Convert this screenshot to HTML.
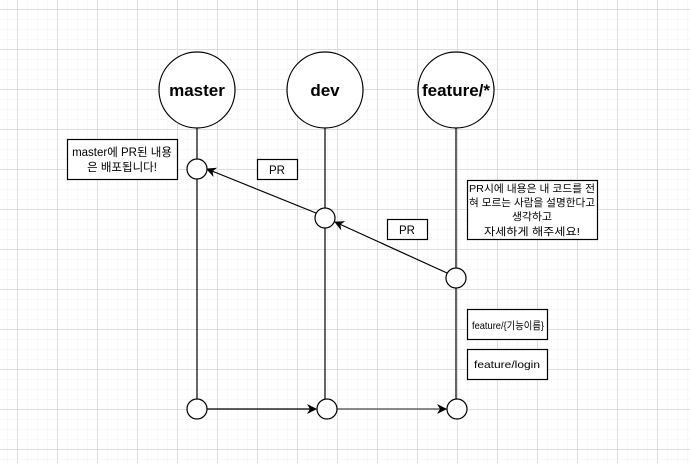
<!DOCTYPE html>
<html><head><meta charset="utf-8"><style>
body{margin:0;width:690px;height:463px;overflow:hidden;background:#fff;}
svg text{font-family:"Liberation Sans","Noto Sans CJK KR",sans-serif;}
</style></head><body>
<svg width="690" height="463" xmlns="http://www.w3.org/2000/svg">
<defs>
<pattern id="mi" width="10" height="10" patternUnits="userSpaceOnUse" x="7" y="9"><path d="M0 0H10M0 0V10" stroke="#f0f0f0" fill="none"/></pattern>
<pattern id="ma" width="40" height="40" patternUnits="userSpaceOnUse" x="17" y="9"><path d="M0 0.5H40M0.5 0V40" stroke="#dedede" fill="none"/></pattern>
<marker id="ar" markerWidth="10" markerHeight="10" refX="9" refY="5" orient="auto" markerUnits="userSpaceOnUse"><path d="M0 0L10 5L0 10L3 5Z" fill="#000"/></marker>
</defs>
<rect width="690" height="463" fill="url(#mi)"/>
<rect width="690" height="463" fill="url(#ma)"/>
<g stroke="#000" stroke-width="1.2" fill="none">
<line x1="197" y1="128" x2="197" y2="400"/>
<line x1="325" y1="128" x2="325" y2="400"/>
<line x1="456" y1="128" x2="456" y2="400"/>
<line x1="316" y1="213" x2="207" y2="169" marker-end="url(#ar)"/>
<line x1="447" y1="273" x2="335" y2="222" marker-end="url(#ar)"/>
<line x1="207" y1="409" x2="316" y2="409" marker-end="url(#ar)"/>
<line x1="337" y1="409" x2="446" y2="409" stroke="#666" stroke-width="1.5" marker-end="url(#ar)"/>
</g>
<g stroke="#000" stroke-width="1.2" fill="#fff">
<circle cx="197" cy="90" r="38"/>
<circle cx="325" cy="90" r="38"/>
<circle cx="456" cy="90" r="38"/>
<circle cx="197" cy="169" r="10"/>
<circle cx="325" cy="218" r="10"/>
<circle cx="456" cy="278" r="10"/>
<circle cx="197" cy="409" r="10"/>
<circle cx="327" cy="409" r="10"/>
<circle cx="457" cy="409" r="10"/>
<rect x="67.5" y="139.5" width="110" height="40"/>
<rect x="257.5" y="159.5" width="40" height="20"/>
<rect x="387.5" y="219.5" width="40" height="20"/>
<rect x="467.5" y="180.5" width="130" height="59"/>
<rect x="467.5" y="309.5" width="80" height="30"/>
<rect x="467.5" y="349.5" width="80" height="30"/>
</g>
<g font-size="17" font-weight="bold" text-anchor="middle">
<text x="197" y="96">master</text>
<text x="325" y="96">dev</text>
<text x="456" y="96">feature/*</text>
</g>
<g font-size="11.5" text-anchor="middle">
<text x="122" y="156">master에 PR된 내용</text>
<text x="122" y="171">은 배포됩니다!</text>
<text x="277" y="174">PR</text>
<text x="407" y="234">PR</text>
</g>
<g font-size="10.5">
<text x="469" y="192" textLength="126" lengthAdjust="spacingAndGlyphs">PR시에 내용은 내 코드를 전</text>
<text x="469" y="206" textLength="126" lengthAdjust="spacingAndGlyphs">혀 모르는 사람을 설명한다고</text>
<text x="512" y="220" textLength="40" lengthAdjust="spacingAndGlyphs">생각하고</text>
<text x="484" y="235" textLength="96" lengthAdjust="spacingAndGlyphs">자세하게 해주세요!</text>
<text x="472" y="329" textLength="72" lengthAdjust="spacingAndGlyphs">feature/{기능이름}</text>
<text x="474" y="368" textLength="66" lengthAdjust="spacingAndGlyphs">feature/login</text>
</g>
</svg>
</body></html>
